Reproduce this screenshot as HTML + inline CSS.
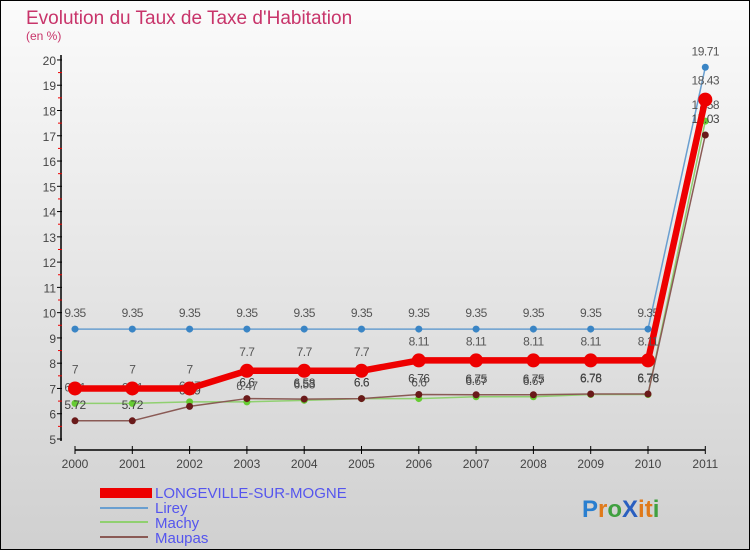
<!DOCTYPE html>
<html><head><meta charset="utf-8"><style>
body{margin:0;}
svg{display:block;font-family:"Liberation Sans",sans-serif;}
</style></head><body>
<svg id="chart" width="750" height="550">
<defs><linearGradient id="bg" x1="0" y1="0" x2="0" y2="1"><stop offset="0" stop-color="#fbfbfb"/><stop offset="1" stop-color="#d0d0d0"/></linearGradient></defs>
<rect x="0.5" y="0.5" width="749" height="549" fill="url(#bg)" stroke="#000"/>
<text x="26" y="24" font-size="19" fill="#c8346a">Evolution du Taux de Taxe d'Habitation</text>
<text x="26" y="40" font-size="12" fill="#c8346a">(en %)</text>
<g id="axes"></g><g id="series"></g>
<g>
<rect x="100" y="488" width="52" height="10" fill="#e00"/>
<text x="155" y="498" font-size="15" fill="#5555ee">LONGEVILLE-SUR-MOGNE</text>
<line x1="100" y1="508" x2="148" y2="508" stroke="#6a9fd0" stroke-width="2"/>
<text x="155" y="513" font-size="15" fill="#5555ee">Lirey</text>
<line x1="100" y1="522" x2="148" y2="522" stroke="#90d070" stroke-width="2"/>
<text x="155" y="528" font-size="15" fill="#5555ee">Machy</text>
<line x1="100" y1="537" x2="148" y2="537" stroke="#8a5a55" stroke-width="2"/>
<text x="155" y="543" font-size="15" fill="#5555ee">Maupas</text>
</g>
<text x="582" y="517" font-size="24" font-weight="bold"><tspan fill="#2a7fd0">P</tspan><tspan fill="#e07a1a">r</tspan><tspan fill="#40a040">o</tspan><tspan fill="#2a5fc0">X</tspan><tspan fill="#e07a1a">i</tspan><tspan fill="#e07a1a">t</tspan><tspan fill="#40a040">i</tspan></text>
</svg>
<script>
const years=["2000","2001","2002","2003","2004","2005","2006","2007","2008","2009","2010","2011"];
const longeville=[7,7,7,7.7,7.7,7.7,8.11,8.11,8.11,8.11,8.11,18.43];
const lirey=[9.35,9.35,9.35,9.35,9.35,9.35,9.35,9.35,9.35,9.35,9.35,19.71];
const machy=[6.41,6.41,6.47,6.47,6.53,6.6,6.6,6.67,6.67,6.76,6.76,17.58];
const maupas=[5.72,5.72,6.29,6.6,6.58,6.6,6.76,6.75,6.75,6.78,6.78,17.03];
const yTicks=[5,6,7,8,9,10,11,12,13,14,15,16,17,18,19,20];
const NS="http://www.w3.org/2000/svg";
const x=i=>75+i*57.3;
const y=v=>439-(v-5)*25.27;
function mk(t,a,p){const e=document.createElementNS(NS,t);for(const k in a)e.setAttribute(k,a[k]);p.appendChild(e);return e;}
const ax=document.getElementById('axes');
const yl=mk('line',{x1:61,y1:55,x2:61,y2:441,stroke:'#000','stroke-width':1.5},ax);


const xl=mk('line',{x1:75,y1:450,x2:705,y2:450,stroke:'#000','stroke-width':1.5},ax);


yTicks.forEach(v=>{
  mk('line',{x1:57,y1:y(v),x2:62,y2:y(v),stroke:'#000'},ax);
  if(v<20)mk('line',{x1:58,y1:y(v+0.5),x2:62,y2:y(v+0.5),stroke:'#e00'},ax);
  const t=mk('text',{x:56,y:y(v)+5,'font-size':12,fill:'#444','text-anchor':'end'},ax);t.textContent=v;
  
  
});
years.forEach((yr,i)=>{
  mk('line',{x1:x(i),y1:446,x2:x(i),y2:454,stroke:'#000'},ax);
  const t=mk('text',{x:x(i),y:468,'font-size':12,fill:'#444','text-anchor':'middle'},ax);t.textContent=yr;
  
  
});
const sg=document.getElementById('series');
function draw(data,name,color,lw,r,dot,labelColor,off){
  const g=mk('g',{},sg);
  
  
  mk('polyline',{points:data.map((v,i)=>x(i)+','+y(v)).join(' '),fill:'none',stroke:color,'stroke-width':lw,'stroke-linejoin':'round'},g);
  data.forEach((v,i)=>{
    const c=mk('circle',{cx:x(i),cy:y(v),r:r,fill:dot},g);
    
    
    const t=mk('text',{x:x(i),y:y(v)-off,'font-size':12,fill:labelColor,'text-anchor':'middle','letter-spacing':'-0.5'},g);
    t.textContent=String(v);
  });
}
draw(lirey,'lirey','#6a9fd0',1.5,3.5,'#3a85c5','#555',12);
draw(machy,'machy','#90d070',1.5,3.5,'#66cc33','#555',12);
draw(maupas,'maupas','#8a5a55',1.5,3.5,'#6a1a1a','#444',12);
draw(longeville,'longeville','#ee0000',6.5,7,'#ee0000','#555',15);
</script>
</body></html>
